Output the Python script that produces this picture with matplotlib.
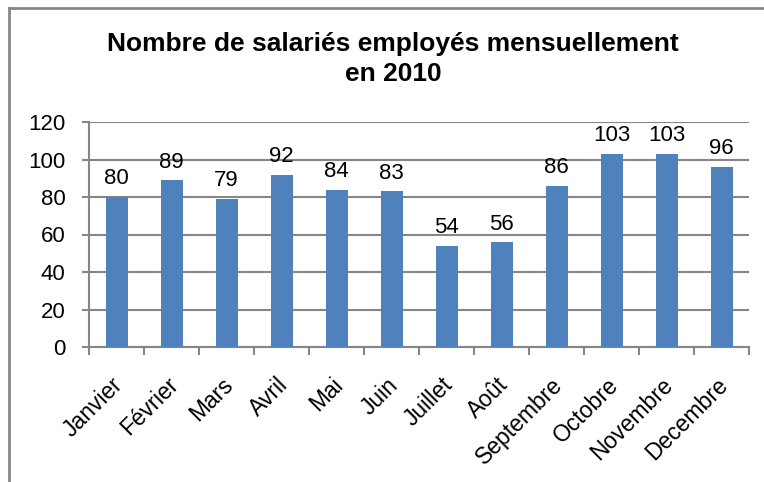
import matplotlib.pyplot as plt
from matplotlib.lines import Line2D
from matplotlib.transforms import ScaledTranslation

# ----------------------------------
# données
# ----------------------------------

mois = ["Janvier", "Février", "Mars", "Avril", "Mai", "Juin",
        "Juillet", "Août", "Septembre", "Octobre", "Novembre", "Decembre"]

salaries = [80, 89, 79, 92, 84, 83, 54, 56, 86, 103, 103, 96]

y_ticks = [0, 20, 40, 60, 80, 100, 120]

# ----------------------------------
# figure
# ----------------------------------

plt.rcParams["font.family"] = ["Liberation Sans", "DejaVu Sans"]

fig = plt.figure(figsize=(7.64, 4.82), dpi=100)
ax = fig.add_axes([89 / 764, 1 - 347 / 482, 660 / 764, 225 / 482])

x = list(range(len(mois)))
ax.bar(x, salaries, width=0.4, color="#4F81BD", zorder=3)

# étiquettes de données
for xi, v in zip(x, salaries):
    ax.annotate(str(v), (xi, v), xytext=(0, 9), textcoords="offset points",
                ha="center", va="baseline", fontsize=16, color="black")

ax.set_xlim(-0.5, len(mois) - 0.5)
ax.set_ylim(0, 120)
ax.set_yticks(y_ticks)
ax.set_yticklabels([str(t) for t in y_ticks], fontsize=16)

# ticks x entre les catégories
ax.set_xticks([i - 0.5 for i in range(len(mois) + 1)])
ax.set_xticklabels([])
ax.set_xticks(x, minor=True)
ax.set_xticklabels(mois, minor=True, rotation=45, ha="right",
                   rotation_mode="anchor", fontsize=16.5)
ax.tick_params(axis="x", which="minor", length=0, pad=19)
ax.tick_params(axis="x", which="major", length=6, color="#868686",
               width=1.5, direction="out")
ax.tick_params(axis="y", length=5, color="#868686", width=1.5,
               direction="out", pad=12)

# petit décalage vers la gauche des mois
decalage = ScaledTranslation(-5 / 100, 0, fig.dpi_scale_trans)
for lab in ax.get_xticklabels(minor=True):
    lab.set_transform(lab.get_transform() + decalage)

ax.grid(axis="y", color="#868686", linewidth=1.5, zorder=0)
ax.set_axisbelow(True)

for side in ["top", "right"]:
    ax.spines[side].set_visible(False)
ax.spines["left"].set_color("#868686")
ax.spines["left"].set_linewidth(1.5)
ax.spines["bottom"].set_color("#868686")
ax.spines["bottom"].set_linewidth(1.5)

# titre
fig.text(393 / 764, 1 - 59 / 482,
         "Nombre de salariés employés mensuellement\nen 2010",
         ha="center", va="center", fontsize=19, fontweight="bold",
         linespacing=1.3)

# bordure du graphique (coupée à droite et en bas)
fig.add_artist(Line2D([9 / 764, 1], [1 - 8 / 482, 1 - 8 / 482],
                      transform=fig.transFigure, color="#878787", linewidth=2))
fig.add_artist(Line2D([9 / 764, 9 / 764], [0, 1 - 8 / 482],
                      transform=fig.transFigure, color="#878787", linewidth=2))

fig.savefig("out.png", dpi=100)
